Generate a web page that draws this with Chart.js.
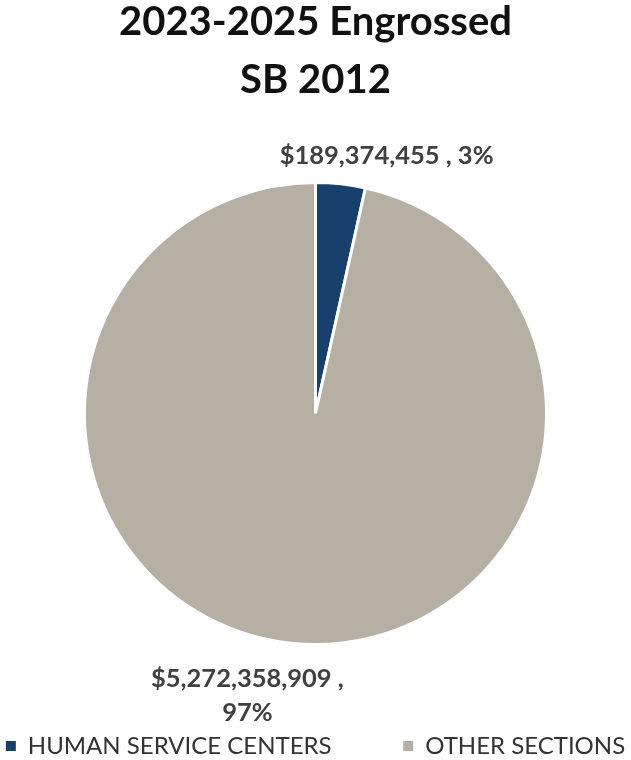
<!DOCTYPE html>
<html>
<head>
<meta charset="utf-8">
<title>2023-2025 Engrossed SB 2012</title>
<script src="https://cdn.jsdelivr.net/npm/chart.js@4.4.1/dist/chart.umd.min.js"></script>
<style>
    html, body { margin: 0; padding: 0; background: #fff; }
    #wrap { width: 631px; height: 760px; position: relative; }
</style>
</head>
<body>
<div id="wrap"><canvas id="myChartPie"></canvas></div>
<script>
(function(){

    'use strict'

    // dados
    var titleLines = ['2023-2025 Engrossed', 'SB 2012'];
    var categories = ['HUMAN SERVICE CENTERS', 'OTHER SECTIONS'];
    var amounts    = [189374455, 5272358909];
    var colors     = ['#17416C', '#B6B0A4'];

    // onde cada rótulo fica em relação ao ponto médio do arco
    var labelOffset = [{dx: 46, dy: -28, wrap: false}, {dx: -43, dy: 36, wrap: true}];

    var fonte = 'Lato, "Open Sans", sans-serif';

    var util = {
        formatarValor : function(v) {
            return '$' + v.toLocaleString('en-US');
        } ,

        formatarPct : function(v, total) {
            return Math.round(v / total * 100) + '%';
        }
    };

    var rotulosPlugin = {
        id: 'rotulos',
        afterDatasetsDraw : function(chart) {
            var ctx = chart.ctx;
            var meta = chart.getDatasetMeta(0);
            var total = amounts.reduce(function(a, b) { return a + b; }, 0);

            ctx.save();
            ctx.font = 'bold 25.5px ' + fonte;
            ctx.fillStyle = '#404040';
            ctx.textAlign = 'center';
            ctx.textBaseline = 'middle';

            meta.data.forEach(function(arc, i) {
                var p = arc.getProps(['x', 'y', 'startAngle', 'endAngle', 'outerRadius'], true);
                var meio = (p.startAngle + p.endAngle) / 2;
                var px = p.x + Math.cos(meio) * p.outerRadius + labelOffset[i].dx;
                var py = p.y + Math.sin(meio) * p.outerRadius + labelOffset[i].dy;
                var valor = util.formatarValor(amounts[i]) + ' ,';
                var pct = util.formatarPct(amounts[i], total);

                if (labelOffset[i].wrap) {
                    ctx.fillText(valor, px, py);
                    ctx.fillText(pct, px, py + 34);
                } else {
                    ctx.fillText(valor + ' ' + pct, px, py);
                }
            });
            ctx.restore();
        }
    };

    var ctx = document.getElementById('myChartPie').getContext('2d');

    var mychart = new Chart(ctx, {
        type: 'pie',
        data: {
            labels: categories,
            datasets: [{
                data: amounts,
                backgroundColor: colors,
                borderColor: '#ffffff',
                borderWidth: 3,
                radius: 231
            }]
        },
        plugins: [rotulosPlugin],
        options: {
            responsive: true,
            maintainAspectRatio: false,
            animation: false,
            layout: {
                padding: {top: 0, bottom: -8, left: 0, right: 0}
            },
            plugins: {
                title: {
                    display: true,
                    text: titleLines,
                    color: '#111111',
                    font: {family: fonte, size: 40, weight: 'bold', lineHeight: 1.45},
                    padding: {top: -7, bottom: -12}
                },
                legend: {
                    position: 'bottom',
                    labels: {
                        color: '#333333',
                        font: {family: fonte, size: 24},
                        boxWidth: 10,
                        boxHeight: 10,
                        padding: 4,
                        generateLabels : function(chart) {
                            var itens = Chart.overrides.pie.plugins.legend.labels.generateLabels(chart);
                            itens.forEach(function(item, i) {
                                item.lineWidth = 0;
                                // espaço entre as duas entradas da legenda
                                if (i === 0) {
                                    item.text = item.text + '           ';
                                }
                            });
                            return itens;
                        }
                    }
                },
                tooltip: {enabled: false}
            }
        }
    });

})();
</script>
</body>
</html>
